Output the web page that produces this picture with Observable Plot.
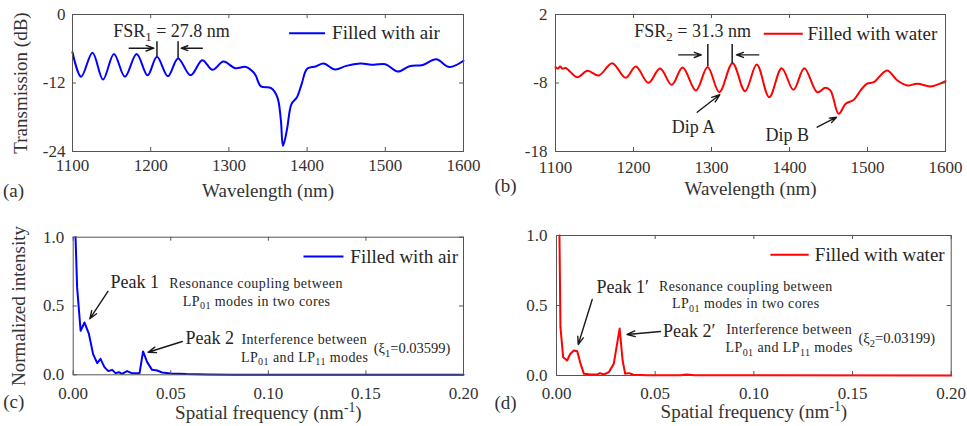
<!DOCTYPE html>
<html><head><meta charset="utf-8">
<script src="https://cdn.jsdelivr.net/npm/d3@7"></script>
<script src="https://cdn.jsdelivr.net/npm/@observablehq/plot@0.6"></script>
<style>
body{margin:0;background:#fff;}
#fig{position:relative;width:967px;height:426px;overflow:hidden;font-family:"Liberation Serif","Times New Roman",serif;}
#fig svg{position:absolute;overflow:visible;}
</style></head><body><div id="fig"></div>
<script>
// ---- data ----
const airWavelength = [1100,1111,1125.6,1139,1153,1167,1182,1196,1208,1222,1235,1251,1266,1279,1293,1308,1322,1333,1341,1354,1362,1366.5,1369,1371.5,1374.7,1380,1387,1393,1400,1411,1421,1436,1450,1468,1485,1500,1516,1531,1548,1565,1582,1600];
const airTransmission = [-6.6,-10.9,-6.7,-11.4,-6.9,-10.9,-6.9,-10.65,-7.4,-10.8,-7.7,-10.65,-8.0,-9.7,-8.25,-9.4,-9.2,-10.4,-12.6,-12.9,-14.5,-18.6,-23.0,-22.0,-19.8,-15.7,-14.5,-12.2,-9.5,-9.1,-8.6,-9.65,-9.0,-8.6,-8.8,-8.7,-10.0,-9.05,-8.85,-7.85,-9.2,-8.1];
const waterWavelength = [1100,1103,1106,1109,1113,1128,1141,1155.5,1172.6,1190,1203,1219,1234,1249,1263,1280,1295,1310,1327,1343,1358,1374,1390,1405,1419,1435.5,1446,1452.6,1463,1472,1482.5,1491,1499.6,1508,1525,1538,1551,1564,1581,1600];
const waterTransmission = [-5.7,-5.9,-5.6,-5.9,-5.8,-7.15,-6.2,-6.9,-5.1,-7.25,-5.6,-7.98,-5.9,-8.27,-5.75,-9.1,-5.65,-9.34,-5.1,-9.2,-5.3,-10.07,-5.83,-9.0,-5.83,-9.34,-8.7,-9.1,-12.5,-11.04,-10.46,-9.1,-8.1,-7.88,-6.17,-7.6,-8.36,-8.1,-8.5,-7.73];
const airFreq = [0.0012,0.002,0.0038,0.0058,0.008,0.0102,0.0123,0.014,0.016,0.018,0.020,0.0217,0.0234,0.025,0.0276,0.030,0.034,0.0358,0.0379,0.0404,0.043,0.0456,0.05,0.058,0.069,0.082,0.2];
const airIntensity = [1.0,0.637,0.32,0.38,0.30,0.15,0.085,0.116,0.056,0.027,0.036,0.012,0.019,0.007,0.027,0.012,0.012,0.17,0.092,0.036,0.031,0.017,0.01,0.005,0.002,0.0,0.0];
const waterFreq = [0.0015,0.002,0.0034,0.0054,0.007,0.0088,0.0105,0.0122,0.0139,0.0172,0.0206,0.022,0.024,0.0265,0.029,0.032,0.0335,0.0348,0.0367,0.039,0.046,0.063,0.066,0.07,0.2];
const waterIntensity = [1.0,0.345,0.13,0.107,0.155,0.178,0.174,0.083,0.012,0.007,0.007,0.017,0.007,0.024,0.083,0.335,0.107,0.012,0.017,0.005,0.002,0.002,0.007,0.002,0.0];
const wavelengthTicks = [1100,1200,1300,1400,1500,1600];
const airDbTicks = [0,-12,-24];
const waterDbTicks = [2,-8,-18];
const freqTicks = [0,0.05,0.10,0.15,0.20];
const intensityTicks = [0,0.5,1.0];

const BLUE = "#0000ff", RED = "#ff0000", INK = "#262626", AX = "#555555";
const fig = document.getElementById("fig");

function fixText(el){
  const s = el.textContent;
  if (!/[_^]\{/.test(s)) return;
  const F = parseFloat(getComputedStyle(el).fontSize) || 16;
  const NS = "http://www.w3.org/2000/svg";
  const parts = s.split(/([_^]\{[^}]*\})/);
  el.textContent = "";
  let shift = 0;
  for (const p of parts) {
    if (!p) continue;
    const ts = document.createElementNS(NS, "tspan");
    let target = 0, txt = p;
    if (p.startsWith("_{")) { target = 0.25*F; txt = p.slice(2,-1); ts.setAttribute("font-size", 0.72*F); }
    else if (p.startsWith("^{")) { target = -0.38*F; txt = p.slice(2,-1); ts.setAttribute("font-size", 0.72*F); }
    ts.setAttribute("dy", target - shift);
    shift = target;
    ts.textContent = txt;
    el.appendChild(ts);
  }
}

function panel(c){
  const fw = c.width - c.ml - c.mr, fh = c.height - c.mt - c.mb;
  const n = c.xs.length;
  const marks = [
    Plot.line({length: n}, {x: c.xs, y: c.ys, stroke: c.color, strokeWidth: 2, curve: c.curve}),
    Plot.frame({stroke: AX, strokeWidth: 1}),
    Plot.ruleX(c.xTicks, {x: d => d, insetTop: fh - 4, stroke: AX}),
    Plot.ruleX(c.xTicks, {x: d => d, insetBottom: fh - 4, stroke: AX}),
    Plot.ruleY(c.yTicks, {y: d => d, insetRight: fw - 4, stroke: AX}),
    Plot.ruleY(c.yTicks, {y: d => d, insetLeft: fw - 4, stroke: AX}),
    Plot.axisX({ticks: c.xTicks, tickSize: 0, tickPadding: c.xPad, tickFormat: c.xFormat, fontSize: 17, label: null, color: "#333"}),
    Plot.axisY({ticks: c.yTicks, tickSize: 0, tickPadding: c.yPad, tickFormat: c.yFormat, fontSize: 17, label: null, color: "#333"}),
    Plot.text([c.xLabel], {frameAnchor: "bottom", dy: c.xLabelDy, textAnchor: "middle", lineAnchor: "middle", fontSize: 19, fill: "#333"}),
    Plot.text([c.tag], {frameAnchor: "bottom-left", dx: c.tagDx, dy: c.tagDy, textAnchor: "middle", lineAnchor: "middle", fontSize: 19, fill: "#333"}),
    Plot.link([c.legend], {x1: "x1", x2: "x2", y1: "y", y2: "y", stroke: c.color, strokeWidth: 2}),
    Plot.text([c.legend], {x: "tx", y: "y", text: "label", textAnchor: "start", fontSize: 19, fill: INK})
  ];
  if (c.yLabel) marks.push(Plot.text([c.yLabel], {frameAnchor: "left", rotate: -90, dx: c.yLabelDx, textAnchor: "middle", lineAnchor: "middle", fontSize: 19, fill: "#333"}));
  for (const g of c.texts) {
    marks.push(Plot.text(g.items, {x: "x", y: "y", text: "t", textAnchor: g.anchor, fontSize: g.size, fill: INK}));
  }
  if (c.links) marks.push(Plot.link(c.links, {x1: "x1", y1: "y1", x2: "x2", y2: "y2", stroke: "#1a1a1a", strokeWidth: 1.5}));
  if (c.arrows) marks.push(Plot.arrow(c.arrows, {x1: "x1", y1: "y1", x2: "x2", y2: "y2", stroke: "#1a1a1a", strokeWidth: 1.4, headLength: 9, headAngle: 40}));
  const svg = Plot.plot({
    width: c.width, height: c.height,
    marginLeft: c.ml, marginRight: c.mr, marginTop: c.mt, marginBottom: c.mb,
    x: {domain: c.xDomain},
    y: {domain: c.yDomain},
    style: {fontFamily: '"Liberation Serif","Times New Roman",serif', background: "transparent", overflow: "visible"},
    marks
  });
  svg.style.left = c.left + "px";
  svg.style.top = c.top + "px";
  fig.appendChild(svg);
  svg.querySelectorAll('g[font-size="14"] text').forEach(t => t.style.letterSpacing = "0.4px");
  svg.querySelectorAll("text").forEach(t => {
    if (t.children.length) t.querySelectorAll("tspan").forEach(fixText); else fixText(t);
  });
}

// (a)
panel({
  left: 0, top: 0, width: 483, height: 210, ml: 72, mr: 20, mt: 14, mb: 59,
  xs: airWavelength, ys: airTransmission, color: BLUE, curve: "catmull-rom",
  xDomain: [1100,1600], yDomain: [-24,0], xTicks: wavelengthTicks, yTicks: airDbTicks,
  xFormat: d => String(d), yFormat: d => String(d), xPad: 7.5, yPad: 7,
  xLabel: "Wavelength (nm)", xLabelDy: 39.5, yLabel: "Transmission (dB)", yLabelDx: -52,
  tag: "(a)", tagDx: -59, tagDy: 39,
  legend: {x1: 1377, x2: 1423, tx: 1432, y: -3.3, label: "Filled with air"},
  texts: [{anchor: "start", size: 18, items: [{x: 1152, y: -2.9, t: "FSR_{1} = 27.8 nm"}]}],
  links: [{x1: 1208, y1: -4.7, x2: 1208, y2: -7.3}, {x1: 1235, y1: -4.7, x2: 1235, y2: -7.6}],
  arrows: [{x1: 1172.5, y1: -5.9, x2: 1204, y2: -5.9}, {x1: 1266, y1: -5.9, x2: 1239, y2: -5.9}]
});

// (b)
panel({
  left: 483, top: 0, width: 484, height: 210, ml: 72, mr: 22, mt: 14, mb: 59,
  xs: waterWavelength, ys: waterTransmission, color: RED, curve: "catmull-rom",
  xDomain: [1100,1600], yDomain: [-18,2], xTicks: wavelengthTicks, yTicks: waterDbTicks,
  xFormat: d => String(d), yFormat: d => String(d), xPad: 9, yPad: 8,
  xLabel: "Wavelength (nm)", xLabelDy: 37,
  tag: "(b)", tagDx: -50, tagDy: 34,
  legend: {x1: 1367, x2: 1417, tx: 1423, y: -0.82, label: "Filled with water"},
  texts: [
    {anchor: "start", size: 18, items: [{x: 1201, y: -0.44, t: "FSR_{2} = 31.3 nm"}]},
    {anchor: "middle", size: 18, items: [{x: 1277, y: -14.45, t: "Dip A"}, {x: 1397, y: -15.66, t: "Dip B"}]}
  ],
  links: [{x1: 1295.3, y1: -2.3, x2: 1295.3, y2: -5.5}, {x1: 1326.5, y1: -2.3, x2: 1326.5, y2: -5.1}],
  arrows: [
    {x1: 1258, y1: -3.9, x2: 1287, y2: -3.9}, {x1: 1360.6, y1: -3.9, x2: 1332, y2: -3.9},
    {x1: 1281.6, y1: -12.26, x2: 1310.6, y2: -9.72}, {x1: 1435.5, y1: -14.45, x2: 1460.3, y2: -12.99}
  ]
});

// (c)
panel({
  left: 0, top: 216, width: 483, height: 210, ml: 72.7, mr: 20, mt: 20.7, mb: 51.7,
  xs: airFreq, ys: airIntensity, color: BLUE, curve: "linear",
  xDomain: [0,0.2], yDomain: [0,1], xTicks: freqTicks, yTicks: intensityTicks,
  xFormat: d => d.toFixed(2), yFormat: d => d.toFixed(1), xPad: 12, yPad: 9,
  xLabel: "Spatial frequency (nm^{-1})", xLabelDy: 38, yLabel: "Normalized intensity", yLabelDx: -54.4,
  tag: "(c)", tagDx: -59.4, tagDy: 27.4,
  legend: {x1: 0.118, x2: 0.1385, tx: 0.142, y: 0.86, label: "Filled with air"},
  texts: [
    {anchor: "start", size: 18, items: [{x: 0.0191, y: 0.673, t: "Peak 1"}, {x: 0.0575, y: 0.269, t: "Peak 2"}]},
    {anchor: "middle", size: 14, items: [
      {x: 0.0937, y: 0.661, t: "Resonance coupling between"},
      {x: 0.0940, y: 0.533, t: "LP_{01} modes in two cores"},
      {x: 0.1184, y: 0.257, t: "Interference between"},
      {x: 0.1186, y: 0.128, t: "LP_{01} and LP_{11} modes"}
    ]},
    {anchor: "start", size: 14.5, items: [{x: 0.154, y: 0.189, t: "(ξ_{1}=0.03599)"}]}
  ],
  arrows: [{x1: 0.0178, y1: 0.607, x2: 0.0085, y2: 0.407}, {x1: 0.0559, y1: 0.242, x2: 0.0384, y2: 0.164}]
});

// (d)
panel({
  left: 483, top: 216, width: 484, height: 210, ml: 73, mr: 16.3, mt: 19, mb: 51,
  xs: waterFreq, ys: waterIntensity, color: RED, curve: "linear",
  xDomain: [0,0.2], yDomain: [0,1], xTicks: freqTicks, yTicks: intensityTicks,
  xFormat: d => d.toFixed(2), yFormat: d => d.toFixed(1), xPad: 11, yPad: 9,
  xLabel: "Spatial frequency (nm^{-1})", xLabelDy: 36.5,
  tag: "(d)", tagDx: -51, tagDy: 27.7,
  legend: {x1: 0.1084, x2: 0.1278, tx: 0.1309, y: 0.862, label: "Filled with water"},
  texts: [
    {anchor: "start", size: 18, items: [{x: 0.0203, y: 0.631, t: "Peak 1′"}, {x: 0.054, y: 0.314, t: "Peak 2′"}]},
    {anchor: "middle", size: 14, items: [
      {x: 0.0959, y: 0.636, t: "Resonance coupling between"},
      {x: 0.0959, y: 0.512, t: "LP_{01} modes in two cores"},
      {x: 0.1179, y: 0.326, t: "Interference between"},
      {x: 0.1179, y: 0.198, t: "LP_{01} and LP_{11} modes"}
    ]},
    {anchor: "start", size: 14.5, items: [{x: 0.153, y: 0.262, t: "(ξ_{2}=0.03199)"}]}
  ],
  arrows: [{x1: 0.0181, y1: 0.543, x2: 0.011, y2: 0.221}, {x1: 0.0527, y1: 0.314, x2: 0.0358, y2: 0.293}]
});
</script>
</body></html>
